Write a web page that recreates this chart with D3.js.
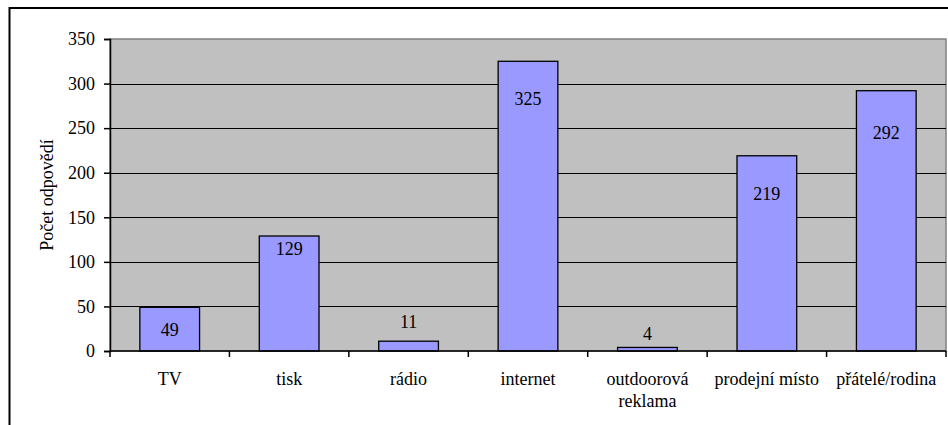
<!DOCTYPE html>
<html>
<head>
<meta charset="utf-8">
<script src="https://cdn.jsdelivr.net/npm/d3@7"></script>
<style>
  body { margin: 0; background: #fff; }
</style>
</head>
<body>
<svg width="948" height="425"></svg>
<script>
var categories = ["TV", "tisk", "rádio", "internet", "outdoorová reklama", "prodejní místo", "přátelé/rodina"];
var values = [49, 129, 11, 325, 4, 219, 292];
var yTicks = [0, 50, 100, 150, 200, 250, 300, 350];
var yTitle = "Počet odpovědí";

// label vertical shift from bar top (px), as placed in the original
var labelDy = [22, 13, -19, 37, -14, 38, 42];

var FONT = "'Liberation Serif', serif";
var FS = "18px";

var svg = d3.select("svg"),
    width = +svg.attr("width"),
    height = +svg.attr("height");

var margin = {left: 110, top: 39, right: 2, bottom: 74};

// outer frame (right/bottom cut off in original)
svg.append("rect")
    .attr("x", 9.5).attr("y", 8)
    .attr("width", 1000).attr("height", 1000)
    .attr("fill", "none")
    .attr("stroke", "#000")
    .attr("stroke-width", 2);

var x = d3.scaleBand()
    .domain(categories)
    .range([margin.left, width - margin.right])
    .paddingInner(0.5)
    .paddingOuter(0.25);

var y = d3.scaleLinear()
    .domain([0, 350])
    .range([height - margin.bottom, margin.top]);

// plot background
svg.append("rect")
    .attr("x", margin.left).attr("y", y(350))
    .attr("width", width - margin.right - margin.left)
    .attr("height", y(0) - y(350))
    .attr("fill", "#c0c0c0")
    .attr("stroke", "#808080")
    .attr("stroke-width", 1.5);

// gridlines
svg.append("g")
    .selectAll("line")
    .data(yTicks.filter(function(d){ return d > 0 && d < 350; }))
    .enter().append("line")
    .attr("x1", margin.left).attr("x2", width - margin.right)
    .attr("y1", function(d){ return Math.round(y(d)) + 0.5; })
    .attr("y2", function(d){ return Math.round(y(d)) + 0.5; })
    .attr("stroke", "#000");

// bars
svg.append("g")
    .selectAll("rect")
    .data(values)
    .enter().append("rect")
    .attr("x", function(d, i){ return x(categories[i]); })
    .attr("y", function(d){ return y(d); })
    .attr("width", x.bandwidth())
    .attr("height", function(d){ return y(0) - y(d); })
    .attr("fill", "#9999ff")
    .attr("stroke", "#000")
    .attr("stroke-width", 1.3);

// value labels
svg.append("g")
    .selectAll("text")
    .data(values)
    .enter().append("text")
    .attr("x", function(d, i){ return x(categories[i]) + x.bandwidth() / 2; })
    .attr("y", function(d, i){ return y(d) + labelDy[i]; })
    .attr("dy", "0.35em")
    .attr("text-anchor", "middle")
    .attr("style", "font-family:" + FONT + ";font-size:" + FS)
    .text(function(d){ return d; });

// y axis
var yAxis = svg.append("g")
    .attr("transform", "translate(" + margin.left + ",0)")
    .call(d3.axisLeft(y).tickValues(yTicks).tickSize(6).tickPadding(9));
yAxis.attr("font-family", null).attr("font-size", null);
yAxis.select(".domain").attr("stroke", "#000").attr("stroke-width", 1.5);
yAxis.selectAll(".tick line").attr("stroke", "#000").attr("stroke-width", 1.5);
yAxis.selectAll("text")
    .attr("fill", "#000")
    .attr("style", "font-family:" + FONT + ";font-size:" + FS);

// x axis line and category boundary ticks
var xEdges = d3.range(categories.length + 1).map(function(i){
    return margin.left + i * x.step();
});
svg.append("line")
    .attr("x1", margin.left).attr("x2", width - margin.right)
    .attr("y1", y(0)).attr("y2", y(0))
    .attr("stroke", "#000").attr("stroke-width", 1.5);
svg.append("g")
    .selectAll("line")
    .data(xEdges)
    .enter().append("line")
    .attr("x1", function(d){ return d; }).attr("x2", function(d){ return d; })
    .attr("y1", y(0)).attr("y2", y(0) + 6)
    .attr("stroke", "#000").attr("stroke-width", 1.5);

var catLabels = svg.append("g")
    .selectAll("text")
    .data(categories)
    .enter().append("text")
    .attr("x", function(d){ return x(d) + x.bandwidth() / 2; })
    .attr("y", y(0) + 34)
    .attr("text-anchor", "middle")
    .attr("style", "font-family:" + FONT + ";font-size:" + FS);

catLabels.each(function(d){
    var t = d3.select(this);
    var parts = d === "outdoorová reklama" ? ["outdoorová", "reklama"] : [d];
    parts.forEach(function(p, k){
        t.append("tspan")
            .attr("x", t.attr("x"))
            .attr("dy", k === 0 ? 0 : 22)
            .text(p);
    });
});

// y title
svg.append("text")
    .attr("transform", "translate(53," + ((y(0) + y(350)) / 2) + ") rotate(-90)")
    .attr("text-anchor", "middle")
    .attr("style", "font-family:" + FONT + ";font-size:" + FS)
    .text(yTitle);
</script>
</body>
</html>
